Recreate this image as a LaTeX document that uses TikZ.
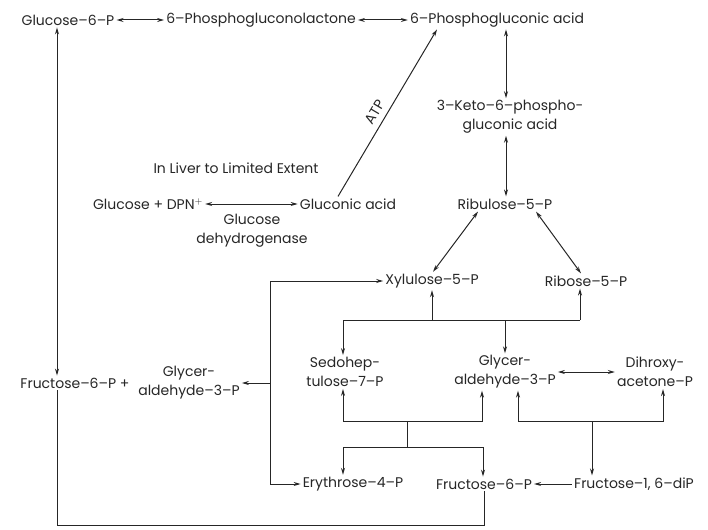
\documentclass[tikz,border=0pt]{standalone}
\usepackage{fontspec}
\setmainfont{Poppins}
\usetikzlibrary{arrows.meta,positioning,calc}
\begin{document}
\begin{tikzpicture}[x=1pt,y=-1pt,
  met/.style={inner sep=2pt,align=center,text=black!85,font=\fontsize{14}{19}\selectfont},
  rx/.style={draw=black!85,line width=1pt},
  >={Stealth[length=7pt,width=4pt]}]
\useasboundingbox (0,0) rectangle (708,529);
\node[met] (g6p) at (68,20) {Glucose--6--P};
\node[met] (lac) at (261,20) {6--Phosphogluconolactone};
\node[met] (pga) at (497,20) {6--Phosphogluconic acid};
\node[met] (keto) at (510,117) {3--Keto--6--phospho-\\gluconic acid};
\node[met] (liv) at (236,168) {In Liver to Limited Extent};
\node[met] (gdp) at (148,204) {Glucose + DPN$^{+}$};
\node[met] (glu) at (348,204) {Gluconic acid};
\node[met] (gdh) at (252,231) {Glucose\\dehydrogenase};
\node[met] (ribu) at (505,204) {Ribulose--5--P};
\node[met] (xyl) at (432,281) {Xylulose--5--P};
\node[met] (rib5) at (586,281) {Ribose--5--P};
\node[met] (f6pl) at (75,383) {Fructose--6--P +};
\node[met] (glyl) at (189,383) {Glycer-\\aldehyde--3--P};
\node[met] (sed) at (345,372) {Sedohep-\\tulose--7--P};
\node[met] (glyc) at (505,372) {Glycer-\\aldehyde--3--P};
\node[met] (dhap) at (655,372) {Dihroxy-\\acetone--P};
\node[met] (ery) at (353,484) {Erythrose--4--P};
\node[met] (f6pr) at (484,484) {Fructose--6--P};
\node[met] (f16) at (634,484) {Fructose--1, 6--diP};
\draw[rx,<->] (g6p) -- (lac);
\draw[rx,<->] (lac) -- (pga);
\coordinate (kx) at (506,0);
\draw[rx,<->] (kx |- pga.south) -- (kx |- keto.north);
\draw[rx,<->] (kx |- keto.south) -- (kx |- ribu.north);
\draw[rx,->] ([xshift=-10pt]glu.north) -- node[met,above=4pt,sloped,pos=0.47] (atp) {ATP} ([xshift=-60pt]pga.south);
\draw[rx,<->] (gdp) -- (glu);
\draw[rx,<->] ([xshift=-27pt]ribu.south) -- ([xshift=1pt]xyl.north);
\draw[rx,<->] ([xshift=31pt]ribu.south) -- ([xshift=-5pt]rib5.north);
\coordinate (lx) at (57,525);
\draw[rx,<->] (lx |- g6p.south) -- (lx |- f6pl.north);
\draw[rx] (lx |- f6pl.south) -- (lx) -| (f6pr.south);
\coordinate (bx) at (270,0);
\draw[rx,<->] (xyl.west) -- (bx |- xyl.west) -- (bx |- ery.west) -- (ery.west);
\draw[rx,->] (bx |- glyl.east) -- (glyl.east);
\coordinate (tk1) at (343,320);
\coordinate (tk2) at (580,320);
\draw[rx] (tk1) -- (tk2);
\draw[rx,->] (tk1) -- (tk1 |- sed.north);
\draw[rx,->] (glyc.north |- tk1) -- (glyc.north);
\draw[rx,->] (xyl.south |- tk1) -- (xyl.south);
\draw[rx,->] (tk2) -- (tk2 |- rib5.south);
\coordinate (ta1) at (343,421);
\coordinate (ta2) at (482,421);
\coordinate (ta3) at (407,421);
\coordinate (tb1) at (343,447);
\coordinate (tb2) at (483,447);
\draw[rx,<->] (ta1 |- sed.south) -- (ta1) -- (ta2) -- (ta2 |- glyc.south);
\draw[rx] (ta3) -- (ta3 |- tb1);
\draw[rx,<->] (tb1 |- ery.north) -- (tb1) -- (tb2) -- (tb2 |- f6pr.north);
\coordinate (al1) at (518,421);
\coordinate (al2) at (663,421);
\coordinate (al3) at (592,421);
\draw[rx,<->] (al1 |- glyc.south) -- (al1) -- (al2) -- (al2 |- dhap.south);
\draw[rx,->] (al3) -- (al3 |- f16.north);
\draw[rx,<->] (glyc) -- (dhap);
\draw[rx,->] (f16) -- (f6pr);
\end{tikzpicture}
\end{document}
